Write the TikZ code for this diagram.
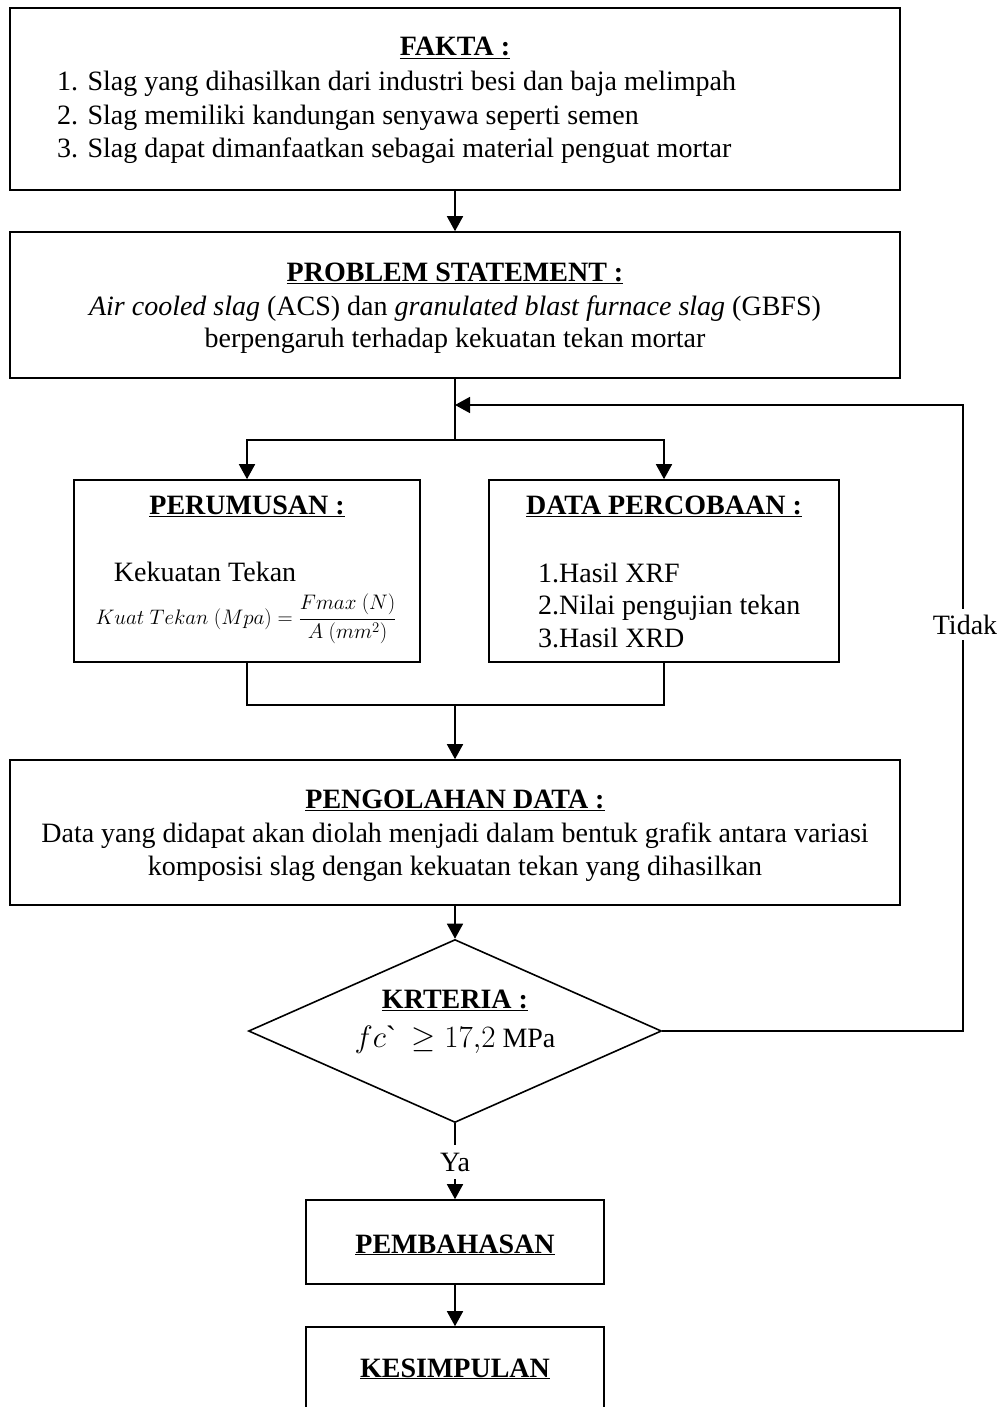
\RequirePackage{fix-cm}
\documentclass[tikz,border=0pt]{standalone}
\usepackage{fontspec}
\setmainfont{Liberation Serif}
\usetikzlibrary{arrows.meta,shapes.geometric,calc}
\begin{document}
\begin{tikzpicture}[x=1pt,y=-1pt,
  box/.style={draw, line width=1.6pt, inner sep=0pt},
  txt/.style={inner sep=0pt, anchor=base, font=\fontsize{28}{34}\selectfont},
  ttl/.style={inner sep=0pt, anchor=base, font=\fontsize{28}{34}\selectfont\bfseries},
  link/.style={line width=1.6pt},
  arr/.style={link, -{Triangle[length=15pt,width=16pt]}},
  lbl/.style={txt, fill=white, inner ysep=6pt, inner xsep=1pt},
]
\useasboundingbox (0,0) rectangle (1004,1407);
\fill[white] (0,0) rectangle (1004,1407);

% boxes
\node[box, minimum width=890pt, minimum height=182pt] (fakta) at (455,99) {};
\node[box, minimum width=890pt, minimum height=146pt] (problem) at (455,305) {};
\node[box, minimum width=346pt, minimum height=182pt] (perum) at (247,571) {};
\node[box, minimum width=350pt, minimum height=182pt] (data) at (664,571) {};
\node[box, minimum width=890pt, minimum height=145pt] (olah) at (455,832.5) {};
\node[box, diamond, aspect=2.26, minimum width=413pt, minimum height=183pt] (krit) at (455,1031) {};
\node[box, minimum width=298pt, minimum height=84pt] (pemb) at (455,1242) {};
\node[box, minimum width=298pt, minimum height=85pt] (kesim) at (455,1369.5) {};

% texts
\node[ttl] (t1) at (455,56) {\underline{FAKTA :}};
\node[txt, anchor=base west] (f1) at (57,91) {1. Slag yang dihasilkan dari industri besi dan baja melimpah};
\node[txt, anchor=base west] (f2) at (57,125) {2. Slag memiliki kandungan senyawa seperti semen};
\node[txt, anchor=base west] (f3) at (57,158) {3. Slag dapat dimanfaatkan sebagai material penguat mortar};

\node[ttl] (t2) at (455,281) {\underline{PROBLEM STATEMENT :}};
\node[txt] (p1) at (455,315) {\textit{Air cooled slag} (ACS) dan \textit{granulated blast furnace slag} (GBFS)};
\node[txt] (p2) at (455,347) {berpengaruh terhadap kekuatan tekan mortar};

\node[ttl] (t3) at (247,514) {\underline{PERUMUSAN :}};
\node[txt] (r1) at (205,581) {Kekuatan Tekan};
\node[inner sep=0pt, font=\fontsize{21}{25}\selectfont] (r2) at (246,619)
  {$\displaystyle Kuat\ Tekan\ (Mpa) = \frac{Fmax\ (N)}{A\ (mm^2)}$};

\node[ttl] (t4) at (664,514) {\underline{DATA PERCOBAAN :}};
\node[txt, anchor=base west] (d1) at (538,582) {1.Hasil XRF};
\node[txt, anchor=base west] (d2) at (538,614) {2.Nilai pengujian tekan};
\node[txt, anchor=base west] (d3) at (538,647) {3.Hasil XRD};

\node[ttl] (t5) at (455,808) {\underline{PENGOLAHAN DATA :}};
\node[txt] (o1) at (455,842) {Data yang didapat akan diolah menjadi dalam bentuk grafik antara variasi};
\node[txt] (o2) at (455,875) {komposisi slag dengan kekuatan tekan yang dihasilkan};

\node[ttl] (t6) at (455,1008) {\underline{KRTERIA :}};
\node[txt] (k1) at (455,1047) {{\fontsize{31}{34}\selectfont$fc$\textasciigrave\ \ $\geq 17{,}2$} MPa};

\node[ttl] (t7) at (455,1253) {\underline{PEMBAHASAN}};
\node[ttl] (t8) at (455,1377) {\underline{KESIMPULAN}};

\node[txt, anchor=center, inner sep=0pt, minimum height=34pt] (ya) at (455,1162) {Ya};

% connectors
\coordinate (split) at (455,440);
\coordinate (merge) at (455,705);
\coordinate (fbtop) at (455,405);
\coordinate (fbcorner) at (963,405);

\draw[arr] (fakta.south) -- (problem.north);
\draw[link] (problem.south) -- (split);
\draw[arr] (split) -| (perum.north);
\draw[arr] (split) -| (data.north);
\draw[link] (perum.south) -- (perum.south |- merge) -- (data.south |- merge) -- (data.south);
\draw[arr] (merge) -- (olah.north);
\draw[arr] (olah.south) -- (krit.north);
\draw[link] (krit.south) -- (ya.north);
\draw[arr] (ya.south) -- (pemb.north);
\draw[arr] (pemb.south) -- (kesim.north);
\draw[arr] (krit.east) -| (fbcorner) -- (fbtop);
\node[lbl] (tidak) at (965,634) {Tidak};
\end{tikzpicture}
\end{document}
